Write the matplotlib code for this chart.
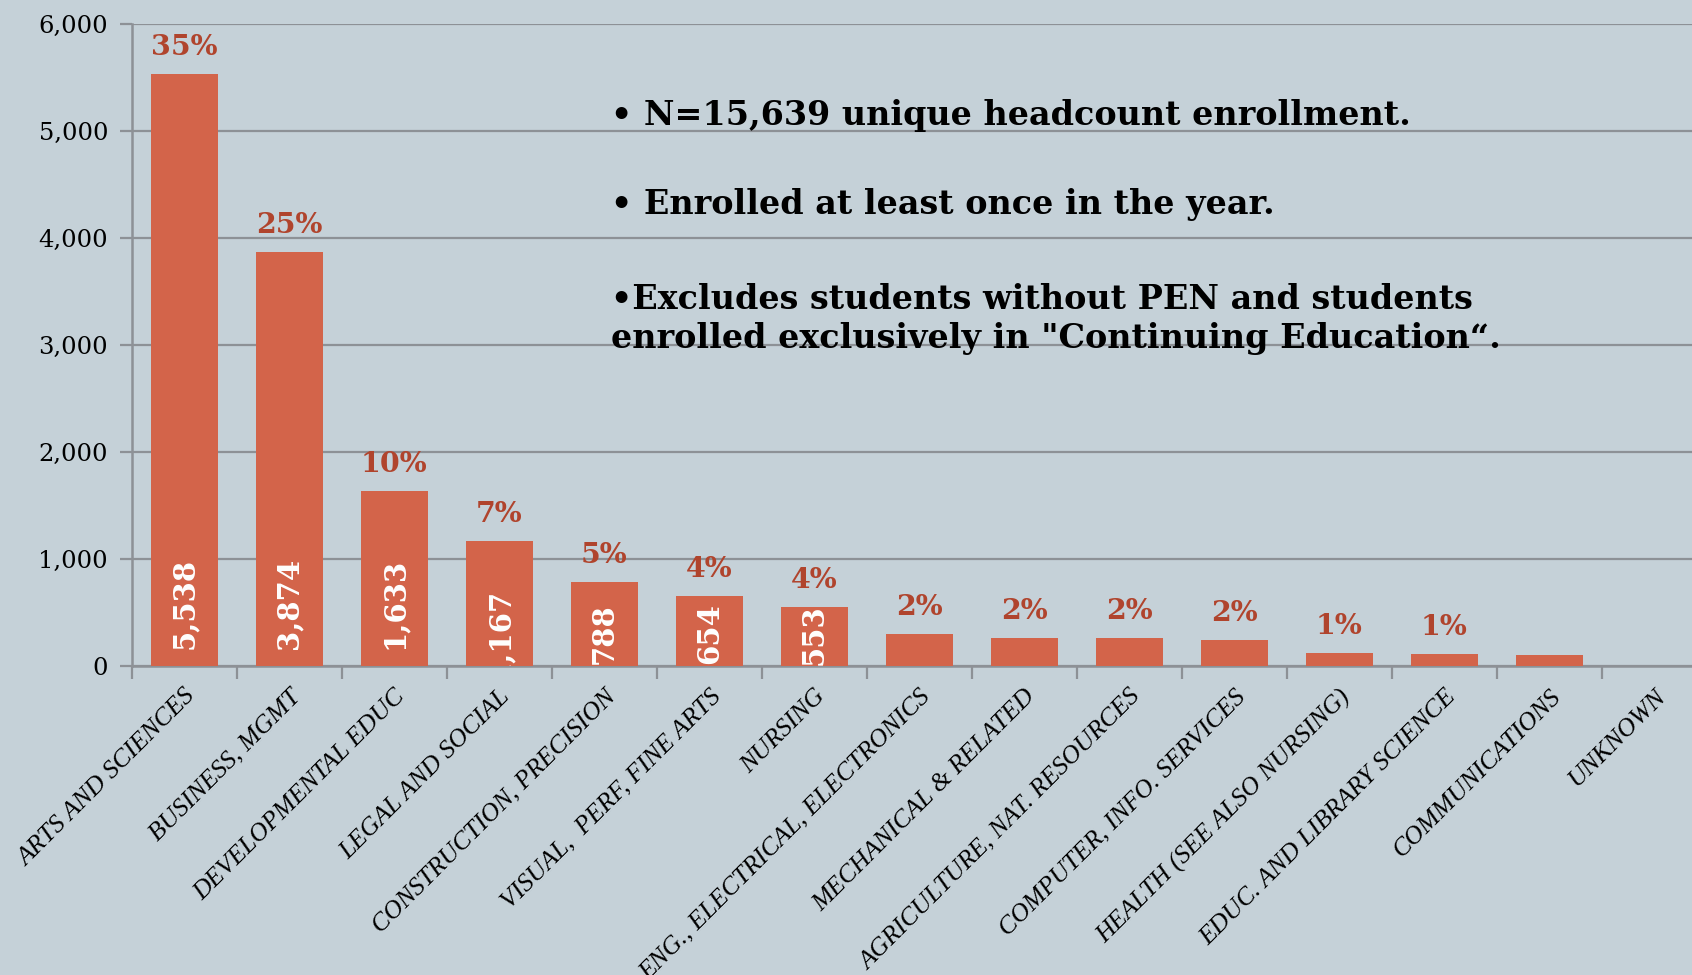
import matplotlib.pyplot as plt
from matplotlib.ticker import FuncFormatter, FixedLocator
import numpy as np

# data
categories = [
    "ARTS AND SCIENCES", "BUSINESS, MGMT", "DEVELOPMENTAL EDUC", "LEGAL AND SOCIAL",
    "CONSTRUCTION, PRECISION", "VISUAL,  PERF, FINE ARTS", "NURSING",
    "ENG., ELECTRICAL, ELECTRONICS", "MECHANICAL & RELATED",
    "AGRICULTURE, NAT. RESOURCES", "COMPUTER, INFO. SERVICES",
    "HEALTH (SEE ALSO NURSING)", "EDUC. AND LIBRARY SCIENCE",
    "COMMUNICATIONS", "UNKNOWN",
]
headcount = [5538, 3874, 1633, 1167, 788, 654, 553, 300, 262, 258, 246, 125, 112, 100, 0]
count_labels = ["5,538", "3,874", "1,633", "1,167", "788", "654", "553"]
pct_labels = ["35%", "25%", "10%", "7%", "5%", "4%", "4%", "2%", "2%", "2%", "2%", "1%", "1%"]
notes = [
    "\u2022 N=15,639 unique headcount enrollment.",
    "\u2022 Enrolled at least once in the year.",
    "\u2022Excludes students without PEN and students\nenrolled exclusively in \"Continuing Education\u201c.",
]

BG = "#C5D1D8"
BAR = "#D3644A"
PCT = "#B0442D"
GRID = "#8D9196"

fig = plt.figure(figsize=(16.92, 9.75), dpi=100, facecolor=BG)
ax = fig.add_axes([0.0778, 0.317, 0.931, 0.658], facecolor=BG)

x = np.arange(len(categories))
ax.bar(x, headcount, width=0.64, color=BAR, zorder=3)

ax.set_xlim(-0.5, len(categories) - 0.5)
ax.set_ylim(0, 6000)
ax.set_yticks(np.arange(0, 6001, 1000))
ax.yaxis.set_major_formatter(FuncFormatter(lambda v, p: f"{int(v):,}"))
ax.grid(axis="y", color=GRID, linewidth=1.6, zorder=0)

for s in ["top", "right"]:
    ax.spines[s].set_visible(False)
for s in ["left", "bottom"]:
    ax.spines[s].set_color(GRID)
    ax.spines[s].set_linewidth(1.8)

# ticks at category boundaries, labels centred between them
ax.xaxis.set_major_locator(FixedLocator(np.arange(-0.5, len(categories), 1.0)))
ax.xaxis.set_major_formatter(FuncFormatter(lambda v, p: ""))
ax.xaxis.set_minor_locator(FixedLocator(x))
ax.set_xticklabels(categories, minor=True, rotation=45, ha="right",
                   rotation_mode="anchor", family="Liberation Serif",
                   style="italic", fontsize=18.5)
ax.tick_params(axis="x", which="major", length=9, width=1.6, color=GRID)
ax.tick_params(axis="x", which="minor", length=0, pad=14)
ax.tick_params(axis="y", length=9, width=1.6, color=GRID, labelsize=17.5, pad=8)
for t in ax.get_yticklabels():
    t.set_family("DejaVu Serif")

# percent labels above bars
for i, lab in enumerate(pct_labels):
    ax.annotate(lab, (x[i], headcount[i]), xytext=(0, 19), textcoords="offset points",
                ha="center", va="center", color=PCT, fontsize=20.5,
                fontweight="bold", family="DejaVu Serif", zorder=4)

# counts written inside the bars
for i, lab in enumerate(count_labels):
    v = headcount[i]
    yc = 585 if v > 1500 else min(300, v - 260)
    ax.text(x[i], yc, lab, rotation=90, ha="center", va="center", color="white",
            fontsize=21, fontweight="bold", family="DejaVu Serif",
            clip_on=True, zorder=4)

# notes box
note_kw = dict(fontsize=24, fontweight="bold", family="DejaVu Serif", va="baseline")
fig.text(0.361, 0.872, notes[0], **note_kw)
fig.text(0.361, 0.781, notes[1], **note_kw)
fig.text(0.361, 0.643, notes[2], linespacing=1.22, **note_kw)

fig.savefig("out.png", dpi=100, facecolor=BG)
